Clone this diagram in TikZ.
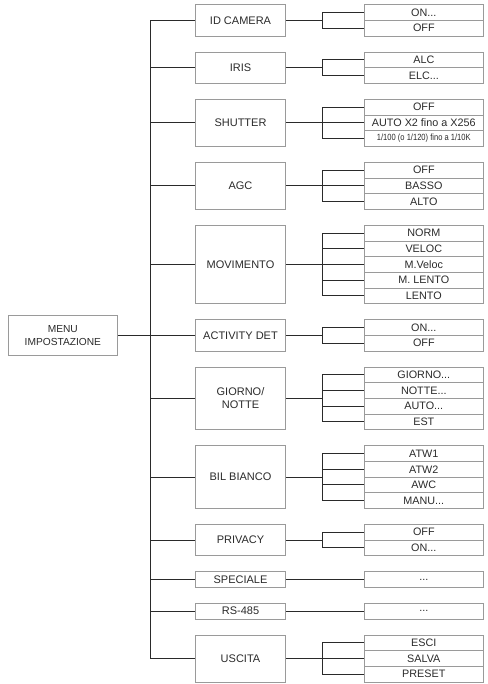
\documentclass[tikz,border=0pt]{standalone}
\usepackage{fontspec}
\setmainfont{Liberation Sans}
\definecolor{boxgray}{HTML}{9A9A9A}
\definecolor{ink}{HTML}{2A2A2A}
\begin{document}
\begin{tikzpicture}[x=1pt,y=-1pt,
  base/.style={draw=boxgray, line width=0.8pt, inner sep=0pt, text=ink, align=center,
    font=\fontsize{10.8}{12.6}\selectfont},
  midbox/.style={base, minimum width=90.4pt, font=\fontsize{11}{13}\selectfont},
  itembox/.style={base, minimum width=119pt, minimum height=15.7pt},
  menubox/.style={base, minimum width=109.7pt, minimum height=40.3pt, font=\fontsize{10.2}{12.7}\selectfont},
  conn/.style={draw=ink, line width=1pt}]
\useasboundingbox (0,0) rectangle (487,684);
\coordinate (tk) at (150,0);
\coordinate (bk) at (322.3,0);
% menu
\node[menubox] (menu) at (62.85,335.4) {MENU\\IMPOSTAZIONE};
% middle boxes
\node[midbox, minimum height=31.4pt] (m1) at (240.5,20.4) {ID CAMERA};
\node[midbox, minimum height=31.4pt] (m2) at (240.5,67.7) {IRIS};
\node[midbox, minimum height=47.1pt] (m3) at (240.5,122.85) {SHUTTER};
\node[midbox, minimum height=47.1pt] (m4) at (240.5,185.85) {AGC};
\node[midbox, minimum height=78.5pt] (m5) at (240.5,264.55) {MOVIMENTO};
\node[midbox, minimum height=31.4pt] (m6) at (240.5,335.4) {ACTIVITY DET};
\node[midbox, minimum height=62.8pt] (m7) at (240.5,398.4) {GIORNO/\\NOTTE};
\node[midbox, minimum height=62.8pt] (m8) at (240.5,477.1) {BIL BIANCO};
\node[midbox, minimum height=31.4pt] (m9) at (240.5,540.1) {PRIVACY};
\node[midbox, minimum height=15.7pt] (m10) at (240.5,579.55) {SPECIALE};
\node[midbox, minimum height=15.7pt] (m11) at (240.5,611.15) {RS-485};
\node[midbox, minimum height=47.1pt] (m12) at (240.5,658.45) {USCITA};
% items
\node[itembox] (m1a) at (423.8,12.55) {ON...};
\node[itembox] (m1b) at (423.8,28.25) {OFF};
\node[itembox] (m2a) at (423.8,59.85) {ALC};
\node[itembox] (m2b) at (423.8,75.55) {ELC...};
\node[itembox] (m3a) at (423.8,107.15) {OFF};
\node[itembox] (m3b) at (423.8,122.85) {AUTO X2 fino a X256};
\node[itembox] (m3c) at (423.8,138.55) {\scalebox{0.84}[1]{\fontsize{9}{10}\selectfont 1/100 (o 1/120) fino a 1/10K}};
\node[itembox] (m4a) at (423.8,170.15) {OFF};
\node[itembox] (m4b) at (423.8,185.85) {BASSO};
\node[itembox] (m4c) at (423.8,201.55) {ALTO};
\node[itembox] (m5a) at (423.8,233.15) {NORM};
\node[itembox] (m5b) at (423.8,248.85) {VELOC};
\node[itembox] (m5c) at (423.8,264.55) {M.Veloc};
\node[itembox] (m5d) at (423.8,280.25) {M. LENTO};
\node[itembox] (m5e) at (423.8,295.95) {LENTO};
\node[itembox] (m6a) at (423.8,327.55) {ON...};
\node[itembox] (m6b) at (423.8,343.25) {OFF};
\node[itembox] (m7a) at (423.8,374.85) {GIORNO...};
\node[itembox] (m7b) at (423.8,390.55) {NOTTE...};
\node[itembox] (m7c) at (423.8,406.25) {AUTO...};
\node[itembox] (m7d) at (423.8,421.95) {EST};
\node[itembox] (m8a) at (423.8,453.55) {ATW1};
\node[itembox] (m8b) at (423.8,469.25) {ATW2};
\node[itembox] (m8c) at (423.8,484.95) {AWC};
\node[itembox] (m8d) at (423.8,500.65) {MANU...};
\node[itembox] (m9a) at (423.8,532.25) {OFF};
\node[itembox] (m9b) at (423.8,547.95) {ON...};
\node[itembox] (m10a) at (423.8,579.55) {...};
\node[itembox] (m11a) at (423.8,611.15) {...};
\node[itembox] (m12a) at (423.8,642.75) {ESCI};
\node[itembox] (m12b) at (423.8,658.45) {SALVA};
\node[itembox] (m12c) at (423.8,674.15) {PRESET};
% trunk
\draw[conn] (menu.east) -- (menu.east -| tk);
\draw[conn] (m1.west) -- (m1.west -| tk) -- (m12.west -| tk) -- (m12.west);
\foreach \m in {m2,m3,m4,m5,m6,m7,m8,m9,m10,m11}
  \draw[conn] (\m.west) -- (\m.west -| tk);
% brackets
\foreach \m in {m1,m2,m3,m4,m5,m6,m7,m8,m9,m12}
  \draw[conn] (\m.east) -- (\m.east -| bk);
\foreach \a/\b in {m1a/m1b,m2a/m2b,m3a/m3c,m4a/m4c,m5a/m5e,m6a/m6b,m7a/m7d,m8a/m8d,m9a/m9b,m12a/m12c}
  \draw[conn] (\a.west) -- (\a.west -| bk) -- (\b.west -| bk) -- (\b.west);
\foreach \c in {m3b,m4b,m5b,m5c,m5d,m7b,m7c,m8b,m8c,m12b}
  \draw[conn] (\c.west) -- (\c.west -| bk);
\draw[conn] (m10.east) -- (m10a.west);
\draw[conn] (m11.east) -- (m11a.west);
\end{tikzpicture}
\end{document}
